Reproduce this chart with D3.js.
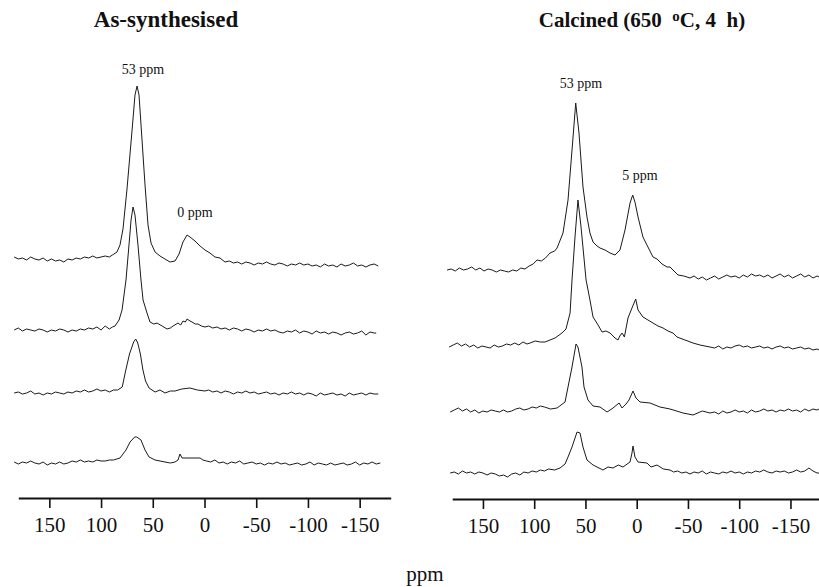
<!DOCTYPE html>
<html>
<head>
<meta charset="utf-8">
<script src="https://cdn.jsdelivr.net/npm/d3@7"></script>
<style>
  body { margin: 0; background: #fff; }
  svg text { font-family: "Liberation Serif", "Times New Roman", serif; }
</style>
</head>
<body>
<svg id="chart" width="819" height="587"></svg>
<script>

// tick values of the chemical shift axis (ppm)
var ppmTicks = [150, 100, 50, 0, -50, -100, -150];

var panelTitles = ["As-synthesised", "Calcined (650  \u00baC, 4  h)"];
var peakLabels = [["53 ppm", "0 ppm"], ["53 ppm", "5 ppm"]];
var xLabel = "ppm";

// spectra, [ppm, intensity a.u.], top to bottom
var asSynth1 = [[184,5],[180,3],[176,4],[172,2],[168,5],[164,3],[160,2],[156,4],[152,1],[148,3],[144,1],[140,2],[136,0],[132,3],[128,2],[124,4],[120,3],[116,5],[112,4],[108,6],[104,4],[100,5],[96,6],[92,5],[89,7],
  [84.6,10],[81.7,17],[78.8,33],[75,72],[70,132],[67.2,167],[65.2,176],[63.3,167],[60.4,122],[57.5,77],[54.6,37],[51.7,19],[47.8,10],[43,6],[38.2,3],[33.3,0],[28.5,1],[24.6,8],[20.8,20],[16.9,27],[14,25],[9.2,21],[4.3,16],[-0.5,12],[-5.3,9],[-10.1,5],[-15,4],[-19.8,0],
  [-24,1],[-28,-1],[-32,0],[-36,-2],[-40,0],[-44,-1],[-48,-3],[-52,-1],[-56,-2],[-60,0],[-64,-2],[-68,-3],[-72,-1],[-76,-2],[-80,-4],[-84,-2],[-88,-3],[-92,-1],[-96,-3],[-100,-2],[-104,-4],[-108,-3],[-112,-5],[-116,-2],[-120,-4],[-124,-3],[-128,-5],[-132,-2],[-136,-4],[-140,-3],[-144,-1],[-148,-4],[-152,-3],[-156,-5],[-160,-3],[-164,-2],[-168,-4]];

var asSynth2 = [[184,0],[180,2],[176,-1],[172,1],[168,0],[164,-1],[160,1],[156,0],[152,-2],[148,0],[144,-1],[140,1],[136,0],[132,-2],[128,0],[124,-1],[120,1],[116,0],[112,2],[108,1],[104,3],[100,0],[96,4],[92,1],[89,3],[86.5,4],
  [82.6,10],[79.7,20],[75.9,50],[73,85],[71,110],[69.1,123],[67.2,115],[64.3,85],[61.4,50],[59.4,30],[55.6,17],[52.7,8],[49,6],[45.9,7],[41,4],[36.2,1],[33,2],[30.4,4],[25.6,7],[23,5],[20.8,9],[18.5,8],[16.9,11],[14,9],[12.1,8],[9,6],[6.3,6],[3,4],[-0.5,3],
  [-4,4],[-8,2],[-12,3],[-16,1],[-20,2],[-24,0],[-28,2],[-32,1],[-36,-1],[-40,1],[-44,0],[-48,-2],[-52,0],[-56,-1],[-60,1],[-64,-1],[-68,0],[-72,-2],[-76,-3],[-80,-1],[-84,-2],[-88,0],[-92,-3],[-96,-1],[-100,-2],[-104,-4],[-108,-1],[-112,-3],[-116,-2],[-120,-4],[-124,-2],[-128,-3],[-132,-5],[-136,-3],[-140,-2],[-144,-4],[-148,-3],[-152,-1],[-156,-5],[-160,-2],[-164,-3],[-166,-3]];

var asSynth3 = [[184,-1],[180,0],[176,-2],[172,-1],[168,1],[164,-2],[160,-1],[156,-3],[152,-1],[148,-2],[144,0],[140,-1],[136,-2],[132,0],[128,-1],[124,1],[120,0],[116,2],[112,0],[108,1],[104,3],[100,1],[96,2],[92,0],[88,2],
  [84,2],[79.5,5],[76.5,20],[72.5,38],[68.5,50],[66.5,53],[64.5,49],[62,38],[59.5,22],[57,11],[53.6,4],[47.8,0],[43,2],[38.2,-1],[33,1],[28.5,1],[22,3],[14,4],[7,2],[-0.5,1],
  [-4,2],[-8,0],[-12,1],[-16,-1],[-20,1],[-24,0],[-28,-2],[-32,0],[-36,-1],[-40,1],[-44,-1],[-48,0],[-52,-2],[-56,-1],[-60,0],[-64,-2],[-68,-1],[-72,-3],[-76,-1],[-80,-2],[-84,0],[-88,-2],[-92,-1],[-96,-3],[-100,-1],[-104,-2],[-108,-4],[-112,-1],[-116,-3],[-120,-2],[-124,-1],[-128,-3],[-132,-2],[-136,-4],[-140,-1],[-144,-3],[-148,-2],[-152,-1],[-156,-3],[-160,-1],[-164,-2],[-168,-2]];

var asSynth4 = [[184,1],[180,-1],[176,1],[172,0],[168,2],[164,0],[160,-1],[156,1],[152,-2],[148,0],[144,-1],[140,1],[136,-1],[132,0],[128,2],[124,1],[120,3],[116,1],[112,2],[108,1],[104,3],[100,2],[96,2],[92,3],[88,3],
  [81.7,5],[75.9,13],[72,21],[67.5,26],[65.5,26],[61.4,23],[57.5,13],[53.6,6],[47.8,3],[43,2],[38.2,1],[33,0],[28.5,1],[25.6,3],[23.7,9],[21.7,5],[14,5],[4.3,5],[1.5,3],
  [-2,2],[-6,1],[-10,3],[-14,0],[-18,1],[-22,-1],[-26,1],[-30,0],[-34,2],[-38,-1],[-42,0],[-46,1],[-50,-1],[-54,0],[-58,-2],[-62,0],[-66,-1],[-70,1],[-74,-1],[-78,0],[-82,-2],[-86,-1],[-90,0],[-94,-2],[-98,-1],[-102,1],[-106,-2],[-110,0],[-114,-1],[-118,-2],[-122,0],[-126,-2],[-130,-1],[-134,0],[-138,-2],[-142,-1],[-146,1],[-150,-2],[-154,0],[-158,-1],[-162,1],[-166,-1],[-170,0]];

var calcined1 = [[185,2],[181,3],[177,1],[173,4],[169,2],[165,3],[161,5],[157,2],[153,4],[149,1],[145,3],[141,2],[137,0],[133,2],[129,1],[125,0],[121,2],[117,1],[113,4],[109,3],[105,6],[101,8],[97.2,12],[93,11],[89,14],[84.6,19],[80,21],[77.7,24],
  [71.9,39],[67,72],[63.1,122],[59.5,169],[56.3,139],[52.4,85],[48.5,55],[45.6,39],[42.6,30],[38.7,26],[35.8,24],[30.9,22],[26,19],[21.2,17],[16.3,22],[11.4,42],[6.5,69],[3.9,77],[1.7,70],[-1.3,55],[-6.1,35],[-10,27],[-15.9,15],[-19.8,13],[-24.7,8],[-29.6,5],[-32.5,5],[-40.3,-3],[-46,-4],[-52,-6],
  [-56,-4],[-60,-7],[-64,-5],[-68,-8],[-72,-6],[-76,-4],[-80,-7],[-84,-5],[-88,-3],[-92,-5],[-96,-4],[-100,-6],[-104,-3],[-108,-5],[-112,-2],[-116,-4],[-120,-3],[-124,-5],[-128,-3],[-132,-6],[-136,-4],[-140,-2],[-144,-5],[-148,-3],[-152,-6],[-156,-4],[-160,-2],[-164,-5],[-168,-3],[-172,-6],[-176,-4],[-178,-5]];

var calcined2 = [[183,0],[179,2],[175,4],[171,1],[167,3],[163,0],[159,2],[155,-1],[151,1],[147,0],[143,-1],[139,2],[135,0],[131,1],[127,3],[123,2],[119,4],[115,2],[111,5],[107,3],[104,4],[99,6],[94,5],[89.4,5],[79.7,9],
  [72.9,14],[69,18],[65,34],[63.1,67],[60.2,110],[57.3,147],[54.3,120],[49.4,67],[45.6,47],[42.6,30],[37.7,22],[33.8,15],[30,16],[26,14],[21.2,9],[18.2,7],[16.5,11],[14.3,14],[12,10],[8.5,29],[4.6,39],[1,48],[-1.3,37],[-6.1,30],[-11,27],[-15.9,24],[-20.8,21],[-25.7,19],[-30.5,16],[-35.4,14],[-39.3,10],[-47.1,7],[-54.9,4],[-61.7,2],[-71.5,0],
  [-76,-1],[-80,1],[-84,-2],[-88,0],[-92,-1],[-96,1],[-100,2],[-104,0],[-108,1],[-112,-1],[-116,0],[-120,1],[-124,-1],[-128,0],[-132,-2],[-136,0],[-140,1],[-144,-1],[-148,0],[-152,-2],[-156,-1],[-160,0],[-164,-2],[-168,-1],[-172,-3],[-176,-2],[-178,-3]];

var calcined3 = [[182,-1],[178,1],[174,3],[170,0],[166,2],[162,-1],[158,1],[154,-2],[150,0],[146,-1],[142,1],[138,0],[134,-1],[130,1],[126,-1],[122,0],[118,2],[114,3],[110,1],[106,2],[102,4],[98,3],[94,5],[90,4],[84,2],[77.7,3],
  [69.9,9],[67,24],[63.1,44],[59.2,67],[57.3,64],[53.4,44],[51.4,24],[47.5,11],[42.6,5],[35.8,4],[28.9,-1],[23.1,3],[17.2,8],[14.3,3],[10.4,7],[7.5,11],[3.6,20],[0.7,13],[-3.2,9],[-13,8],[-22.7,4],[-32.5,2],[-45.2,-2],[-55,-4],[-64,0],[-71.5,-2],
  [-76,-1],[-80,-3],[-84,0],[-88,-2],[-92,-1],[-96,1],[-100,-1],[-104,0],[-108,-2],[-112,1],[-116,-1],[-120,0],[-124,2],[-128,0],[-132,1],[-136,-1],[-140,1],[-144,0],[-148,2],[-152,0],[-156,1],[-160,-1],[-164,2],[-168,0],[-172,2],[-176,1],[-178,2]];

var calcined4 = [[182,0],[178,1],[174,-1],[170,2],[166,0],[162,1],[158,-1],[154,1],[150,0],[146,-2],[142,0],[138,-1],[134,-3],[130,-2],[126,-4],[122,-1],[118,0],[114,-2],[110,1],[106,0],[102,2],[98,1],[94,3],[90,2],[86,4],[80,3],
  [74.8,5],[69.9,9],[67,16],[63.1,26],[58.2,41],[55.3,40],[52.4,26],[48.5,13],[42.6,8],[32.9,3],[28,6],[23.1,5],[18,8],[13.4,6],[6.5,11],[4.6,20],[3.6,27],[1.7,16],[-1.3,11],[-10,10],[-14,6],[-19.8,8],[-26,4],[-32.5,3],
  [-36,1],[-40,2],[-44,0],[-48,1],[-52,-1],[-56,1],[-60,0],[-64,2],[-68,-1],[-72,1],[-76,0],[-80,-1],[-84,1],[-88,0],[-92,2],[-96,0],[-100,1],[-104,-1],[-108,1],[-112,0],[-116,2],[-120,1],[-124,3],[-128,1],[-132,0],[-136,2],[-140,1],[-144,2],[-148,0],[-152,1],[-156,3],[-160,1],[-164,2],[-168,5],[-172,2],[-176,0],[-178,0]];

var asSynthSpectra = [asSynth1, asSynth2, asSynth3, asSynth4];
var calcinedSpectra = [calcined1, calcined2, calcined3, calcined4];


function init() {

    var svg = d3.select("#chart");
    var serif = '"Liberation Serif", "Times New Roman", serif';

    // layout of the two panels (pixels)
    var panels = [
        {spectra: asSynthSpectra, title: panelTitles[0], labels: peakLabels[0],
         x0: 18.3, x1: 390.7, titleX: 166, titleSize: "23px", axisY: 498,
         offsets: [262, 330, 392, 463],
         labelPos: [[59.4, 188], [9.2, 45]]},
        {spectra: calcinedSpectra, title: panelTitles[1], labels: peakLabels[1],
         x0: 452.2, x1: 821.2, titleX: 642, titleSize: "21px", axisY: 499,
         offsets: [272, 347, 411, 473],
         labelPos: [[54.3, 184], [-3.2, 92]]}
    ];

    // intensity scale: 1 a.u. = 1 px upwards
    var y = d3.scaleLinear().domain([0, 100]).range([0, -100]);

    panels.forEach(function (p, pi) {

        var x = d3.scaleLinear().domain([180, -180]).range([p.x0, p.x1]);

        var line = d3.line()
            .x(function (d) { return x(d[0]); })
            .y(function (d) { return y(d[1]); });

        var g = svg.append("g").attr("class", "panel");

        //stacked spectra
        g.selectAll("path.spec")
            .data(p.spectra)
            .enter()
            .append("path")
            .attr("class", "spec")
            .attr("transform", function (d, i) {
                return "translate(0," + p.offsets[i] + ")";
            })
            .attr("d", line)
            .attr("fill", "none")
            .attr("stroke", "#1a1a1a")
            .attr("stroke-width", 1)
            .attr("stroke-linejoin", "round");

        //peak labels
        g.selectAll("text.peak")
            .data(p.labels)
            .enter()
            .append("text")
            .attr("class", "peak")
            .attr("x", function (d, i) { return x(p.labelPos[i][0]); })
            .attr("y", function (d, i) { return p.offsets[0] + y(p.labelPos[i][1]); })
            .attr("text-anchor", "middle")
            .style("font-family", serif)
            .style("font-size", "14px")
            .attr("fill", "#111")
            .text(function (d) { return d; });

        //axis
        var axis = d3.axisBottom(x)
            .tickValues(ppmTicks)
            .tickSize(10)
            .tickSizeOuter(0)
            .tickPadding(9)
            .tickFormat(function (d) { return String(d); });

        var ax = g.append("g")
            .attr("transform", "translate(0," + p.axisY + ")")
            .call(axis)
            .attr("font-family", null)
            .attr("font-size", null);
        ax.select(".domain").attr("stroke", "#111").attr("stroke-width", 2);
        ax.selectAll(".tick line").attr("stroke", "#111").attr("stroke-width", 1.6);
        ax.selectAll(".tick text")
            .attr("fill", "#111")
            .style("font-family", serif)
            .style("font-size", "21px");

        //title
        var t = g.append("text")
            .attr("x", p.titleX)
            .attr("y", 27)
            .attr("text-anchor", "middle")
            .style("font-family", serif)
            .style("font-size", p.titleSize)
            .style("font-weight", "bold")
            .attr("fill", "#111");
        if (pi === 1) {
            t.append("tspan").text("Calcined (650 \u00a0");
            t.append("tspan").style("font-size", "15px").attr("dy", -6).text("o");
            t.append("tspan").attr("dy", 6).text("C, 4 \u00a0h)");
        } else {
            t.text(p.title);
        }
    });

    svg.append("text")
        .attr("x", 425)
        .attr("y", 581)
        .attr("text-anchor", "middle")
        .style("font-family", serif)
        .style("font-size", "21px")
        .attr("fill", "#111")
        .text(xLabel);
}

init();
</script>
</body>
</html>
